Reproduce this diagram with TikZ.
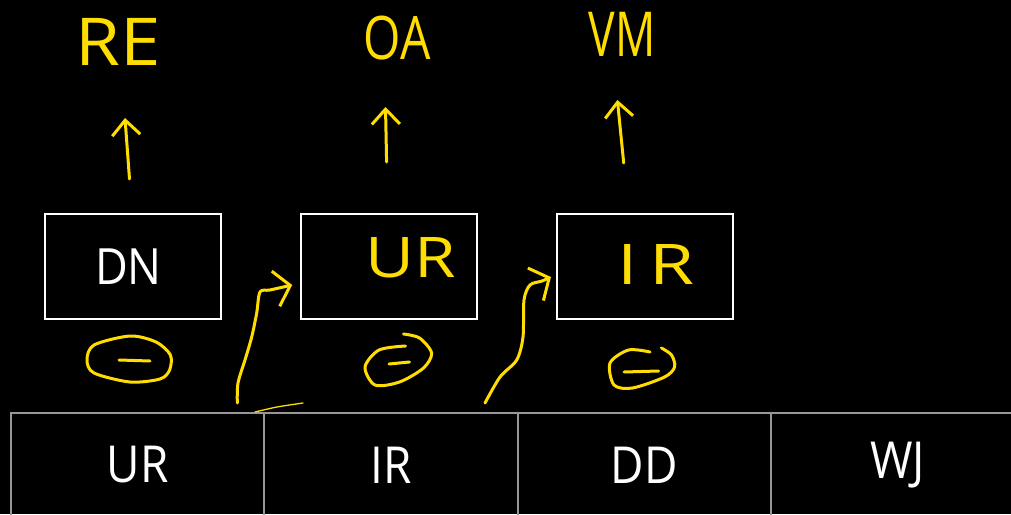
\documentclass[tikz,border=0pt]{standalone}
\usepackage{fontspec}
\usetikzlibrary{arrows.meta}
\newfontfamily\labfont[FakeStretch=0.9]{Open Sans}
\newfontfamily\handfont{Open Sans}
\definecolor{hy}{RGB}{255,221,0}
\definecolor{cellgray}{RGB}{150,150,150}
\begin{document}
\begin{tikzpicture}[x=1pt,y=-1pt,
  hand/.style={draw=hy, line width=3pt, line cap=round, line join=round},
  upar/.style={-{Straight Barb[length=15pt,width=28pt,line width=3pt]}},
  curvar/.style={-{Straight Barb[length=15pt,width=36pt,line width=3pt]}},
  boxnode/.style={draw=white, line width=1.5pt, minimum width=176pt, minimum height=105pt,
    inner sep=0pt, text=white, font=\labfont\fontsize{50}{56}\selectfont},
  cellnode/.style={draw=cellgray, line width=2pt, minimum width=253.3pt, minimum height=104pt,
    inner sep=0pt, text=white, font=\labfont\fontsize{51}{57}\selectfont},
  handtext/.style={text=hy, inner sep=0pt}]
\fill[black] (0,0) rectangle (1011,514);
\useasboundingbox (0,0) rectangle (1011,514);
\clip (0,0) rectangle (1011,514);

% boxes
\node[boxnode] (dn) at (133,266.5) {\hspace*{-9pt}DN};
\node[boxnode] (ur) at (389,266.5) {};
\node[boxnode] (ir) at (645,266.5) {};

% bottom row
\node[cellnode] (c1) at (137.65,465) {UR};
\node[cellnode] (c2) at (390.95,465) {IR};
\node[cellnode] (c3) at (644.25,465) {DD};
\node[cellnode] (c4) at (897.6,465) {WJ};

% handwritten labels
\node[handtext, font=\handfont\fontsize{66}{70}\selectfont] (re) at (118,42) {\scalebox{1.1}[1]{RE}};
\node[handtext, font=\handfont\fontsize{60}{64}\selectfont] (oa) at (397,38) {\scalebox{0.8}[1]{OA}};
\node[handtext, font=\handfont\fontsize{62}{66}\selectfont] (vm) at (622,34) {\scalebox{0.72}[1]{VM}};
\node[handtext, font=\handfont\fontsize{56}{60}\selectfont] (urh) at (411,258) {\scalebox{1.2}[1]{UR}};
\node[handtext, font=\handfont\fontsize{56}{60}\selectfont] (irh) at (656,265) {\scalebox{1.3}[1]{I\,R}};

% up arrows
\coordinate (a1s) at (129.5,179);
\coordinate (a1e) at (125,118);
\coordinate (a2s) at (386.6,162);
\coordinate (a2e) at (385.5,107);
\coordinate (a3s) at (623.7,163);
\coordinate (a3e) at (617.4,100);
\draw[hand,upar] (a1s) -- (a1e);
\draw[hand,upar] (a2s) -- (a2e);
\draw[hand,upar] (a3s) -- (a3e);

% ellipses with minus
\draw[hand] plot[smooth cycle] coordinates {(94,345) (130,336) (156,342) (170.4,355) (169.6,370) (160,379) (130,382) (94,373) (87,360)};
\draw[hand] (119,360) -- (150,361);
\draw[hand] plot[smooth] coordinates {(405.5,346) (379,350) (365,367) (375,385) (399.5,382) (423.5,368) (431.6,353) (419.5,338) (403.5,334)};
\draw[hand] (389,364) -- (409.5,362);
\draw[hand] plot[smooth] coordinates {(650,352) (628.5,350) (610,363) (614,385) (632.5,388) (664.6,377) (674.6,367) (671.5,355) (661.4,348)};
\draw[hand] (624,372) -- (658.6,371);

% curved arrows
\coordinate (s1) at (237.3,403);
\coordinate (e1) at ([xshift=-8pt,yshift=-18.5pt]ur.west);
\draw[hand,curvar] plot[smooth] coordinates {(s1) (238,383) (245,360) (251.7,337) (256.7,313) (260,292) (270,290) (e1)};
\coordinate (s2) at (485,403);
\coordinate (e2) at ([xshift=-5.3pt,yshift=-10.5pt]ir.west);
\draw[hand,curvar] plot[smooth] coordinates {(s2) (500,377) (516.7,360) (523,337) (524,300) (530,285) (542,281) (e2)};

% small stroke
\draw[draw=hy, line width=1.3pt, line cap=round] plot[smooth] coordinates {(255,412) (277,407) (303,403)};
\end{tikzpicture}
\end{document}
